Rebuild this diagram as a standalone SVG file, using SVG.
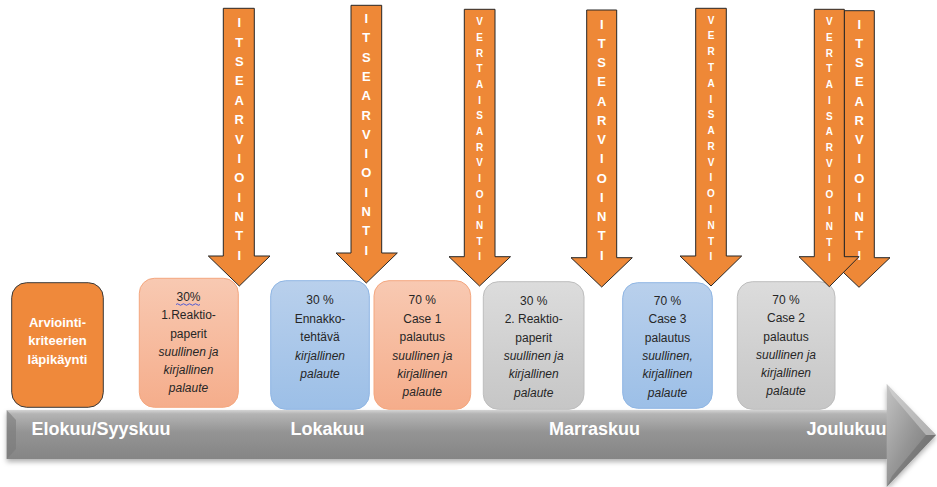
<svg xmlns="http://www.w3.org/2000/svg" width="937" height="487" viewBox="0 0 937 487">
  <defs>
    <linearGradient id="gBody" x1="0" y1="0" x2="0" y2="1">
      <stop offset="0" stop-color="#d4d4d4"/>
      <stop offset="0.08" stop-color="#b4b4b4"/>
      <stop offset="0.45" stop-color="#949494"/>
      <stop offset="1" stop-color="#858585"/>
    </linearGradient>
    <linearGradient id="gHead" x1="0" y1="0" x2="1" y2="1">
      <stop offset="0" stop-color="#c4c4c4"/>
      <stop offset="0.5" stop-color="#959595"/>
      <stop offset="1" stop-color="#6e6e6e"/>
    </linearGradient>
    <linearGradient id="gSalmon" x1="0" y1="0" x2="0" y2="1">
      <stop offset="0" stop-color="#f8c9b2"/>
      <stop offset="1" stop-color="#f5ad8b"/>
    </linearGradient>
    <linearGradient id="gBlue" x1="0" y1="0" x2="0" y2="1">
      <stop offset="0" stop-color="#b9d0ec"/>
      <stop offset="1" stop-color="#9cbfe7"/>
    </linearGradient>
    <linearGradient id="gGray" x1="0" y1="0" x2="0" y2="1">
      <stop offset="0" stop-color="#dcdcdc"/>
      <stop offset="1" stop-color="#c6c6c6"/>
    </linearGradient>
    <filter id="shadow" x="-5%" y="-20%" width="110%" height="160%">
      <feDropShadow dx="0" dy="3" stdDeviation="2.5" flood-color="#000" flood-opacity="0.3"/>
    </filter>
    <style>
      .arrow { fill: #ee8837; stroke: #262626; stroke-width: 1; }
      .lt { font: bold 13px 'Liberation Sans', Arial, sans-serif; fill: #ffffff; text-anchor: middle; }
      .lv { font: bold 10px 'Liberation Sans', Arial, sans-serif; fill: #ffffff; text-anchor: middle; }
      .bt { font: 12px 'Liberation Sans', Arial, sans-serif; fill: #262626; text-anchor: middle; }
      .it { font-style: italic; }
      .wt { font: bold 13px 'Liberation Sans', Arial, sans-serif; fill: #ffffff; text-anchor: middle; }
      .mt { font: bold 18px 'Liberation Sans', Arial, sans-serif; fill: #ffffff; }
      .salmon { fill: url(#gSalmon); stroke: #f4a77f; stroke-width: 1; }
      .blue { fill: url(#gBlue); stroke: #8fb6e4; stroke-width: 1; }
      .gray { fill: url(#gGray); stroke: #bdbdbd; stroke-width: 1; }
    </style>
  </defs>

  <!-- timeline arrow -->
  <g id="timeline">
    <g filter="url(#shadow)">
      <rect x="6.7" y="410" width="881" height="49" fill="url(#gBody)"/>
      <polygon points="886.7,384 936,435 886.7,487" fill="url(#gHead)"/>
    </g>
    <polygon points="6.7,410 16,420 16,449 6.7,459" fill="#7a7a7a" opacity="0.6"/>
    <polygon points="886.7,384 892,395 926,435 936,435" fill="#dcdcdc" opacity="0.5"/>
    <polygon points="886.7,487 892,476 926,435 936,435" fill="#5a5a5a" opacity="0.35"/>
    <text class="mt" x="31.5" y="435">Elokuu/Syyskuu</text>
    <text class="mt" x="290.5" y="435">Lokakuu</text>
    <text class="mt" x="549" y="435">Marraskuu</text>
    <text class="mt" x="806.5" y="435">Joulukuu</text>
  </g>

  <!-- task boxes -->
  <g id="box-kriteerit">
    <rect x="11.7" y="282.7" width="91.6" height="124.6" rx="15" fill="#ef893b" stroke="#3a3a3a" stroke-width="1"/>
    <text class="wt" x="57.5" y="326.5">Arviointi-</text>
    <text class="wt" x="57.5" y="345">kriteerien</text>
    <text class="wt" x="57.5" y="364">läpikäynti</text>
  </g>

  <g id="box-reaktio1">
    <rect class="salmon" x="139.3" y="278.3" width="99" height="129" rx="15"/>
    <text class="bt" x="188.5" y="301">30%</text>
    <path d="M176,304.5 q1.5,-1.5 3,0 t3,0 t3,0 t3,0 t3,0 t3,0 t3,0 t3,0" fill="none" stroke="#3b4fd8" stroke-width="0.9"/>
    <text class="bt" x="188.5" y="319">1.Reaktio-</text>
    <text class="bt" x="188.5" y="337.5">paperit</text>
    <text class="bt it" x="188.5" y="356">suullinen ja</text>
    <text class="bt it" x="188.5" y="374">kirjallinen</text>
    <text class="bt it" x="188.5" y="392">palaute</text>
  </g>

  <g id="box-ennakko">
    <rect class="blue" x="270.7" y="280.7" width="98.6" height="128.6" rx="15"/>
    <text class="bt" x="320" y="304">30 %</text>
    <text class="bt" x="320" y="322.5">Ennakko-</text>
    <text class="bt" x="320" y="341">tehtävä</text>
    <text class="bt it" x="320" y="359.5">kirjallinen</text>
    <text class="bt it" x="320" y="378">palaute</text>
  </g>

  <g id="box-case1">
    <rect class="salmon" x="374" y="280.7" width="96.7" height="128.6" rx="15"/>
    <text class="bt" x="422.3" y="304">70 %</text>
    <text class="bt" x="422.3" y="322.5">Case 1</text>
    <text class="bt" x="422.3" y="341">palautus</text>
    <text class="bt it" x="422.3" y="359.5">suullinen ja</text>
    <text class="bt it" x="422.3" y="377.5">kirjallinen</text>
    <text class="bt it" x="422.3" y="396">palaute</text>
  </g>

  <g id="box-reaktio2">
    <rect class="gray" x="483.3" y="281.7" width="100.7" height="127.6" rx="15"/>
    <text class="bt" x="533.7" y="304.5">30 %</text>
    <text class="bt" x="533.7" y="323">2. Reaktio-</text>
    <text class="bt" x="533.7" y="341.5">paperit</text>
    <text class="bt it" x="533.7" y="360">suullinen ja</text>
    <text class="bt it" x="533.7" y="378">kirjallinen</text>
    <text class="bt it" x="533.7" y="396.5">palaute</text>
  </g>

  <g id="box-case3">
    <rect class="blue" x="622.7" y="282.7" width="89.6" height="125.6" rx="15"/>
    <text class="bt" x="667.5" y="305">70 %</text>
    <text class="bt" x="667.5" y="323">Case 3</text>
    <text class="bt" x="667.5" y="341.5">palautus</text>
    <text class="bt it" x="667.5" y="360">suullinen,</text>
    <text class="bt it" x="667.5" y="378">kirjallinen</text>
    <text class="bt it" x="667.5" y="396.5">palaute</text>
  </g>

  <g id="box-case2">
    <rect class="gray" x="737.3" y="281.7" width="97.7" height="127.6" rx="15"/>
    <text class="bt" x="786" y="304">70 %</text>
    <text class="bt" x="786" y="322">Case 2</text>
    <text class="bt" x="786" y="340.5">palautus</text>
    <text class="bt it" x="786" y="358.5">suullinen ja</text>
    <text class="bt it" x="786" y="376.5">kirjallinen</text>
    <text class="bt it" x="786" y="395">palaute</text>
  </g>

  <!-- assessment arrows pointing down onto the timeline -->
  <g id="connectors">
    <g id="arrow-itse-1">
      <polygon class="arrow" points="223.3,8.3 254.3,8.3 254.3,256 270,256 239.3,286 208.3,256 223.3,256"/>
      <text class="lt" y="27.4"><tspan x="239.3">I</tspan><tspan x="239.3" dy="19.35">T</tspan><tspan x="239.3" dy="19.35">S</tspan><tspan x="239.3" dy="19.35">E</tspan><tspan x="239.3" dy="19.35">A</tspan><tspan x="239.3" dy="19.35">R</tspan><tspan x="239.3" dy="19.35">V</tspan><tspan x="239.3" dy="19.35">I</tspan><tspan x="239.3" dy="19.35">O</tspan><tspan x="239.3" dy="19.35">I</tspan><tspan x="239.3" dy="19.35">N</tspan><tspan x="239.3" dy="19.35">T</tspan><tspan x="239.3" dy="19.35">I</tspan></text>
    </g>
    <g id="arrow-itse-2">
      <polygon class="arrow" points="351,5.3 381.7,5.3 381.7,253 397.3,253 366.3,283 336,253 351,253"/>
      <text class="lt" y="23"><tspan x="366.3">I</tspan><tspan x="366.3" dy="19.3">T</tspan><tspan x="366.3" dy="19.3">S</tspan><tspan x="366.3" dy="19.3">E</tspan><tspan x="366.3" dy="19.3">A</tspan><tspan x="366.3" dy="19.3">R</tspan><tspan x="366.3" dy="19.3">V</tspan><tspan x="366.3" dy="19.3">I</tspan><tspan x="366.3" dy="19.3">O</tspan><tspan x="366.3" dy="19.3">I</tspan><tspan x="366.3" dy="19.3">N</tspan><tspan x="366.3" dy="19.3">T</tspan><tspan x="366.3" dy="19.3">I</tspan></text>
    </g>
    <g id="arrow-vertais-1">
      <polygon class="arrow" points="464.3,9.3 495,9.3 495,256.7 510.5,256.7 479.5,286 449,256.7 464.3,256.7"/>
      <text class="lv" y="25.3"><tspan x="479.6">V</tspan><tspan x="479.6" dy="15.67">E</tspan><tspan x="479.6" dy="15.67">R</tspan><tspan x="479.6" dy="15.67">T</tspan><tspan x="479.6" dy="15.67">A</tspan><tspan x="479.6" dy="15.67">I</tspan><tspan x="479.6" dy="15.67">S</tspan><tspan x="479.6" dy="15.67">A</tspan><tspan x="479.6" dy="15.67">R</tspan><tspan x="479.6" dy="15.67">V</tspan><tspan x="479.6" dy="15.67">I</tspan><tspan x="479.6" dy="15.67">O</tspan><tspan x="479.6" dy="15.67">I</tspan><tspan x="479.6" dy="15.67">N</tspan><tspan x="479.6" dy="15.67">T</tspan><tspan x="479.6" dy="15.67">I</tspan></text>
    </g>
    <g id="arrow-itse-3">
      <polygon class="arrow" points="586.7,10 616.7,10 616.7,257.7 632.3,257.7 601.7,287 571,257.7 586.7,257.7"/>
      <text class="lt" y="28.7"><tspan x="601.7">I</tspan><tspan x="601.7" dy="19.25">T</tspan><tspan x="601.7" dy="19.25">S</tspan><tspan x="601.7" dy="19.25">E</tspan><tspan x="601.7" dy="19.25">A</tspan><tspan x="601.7" dy="19.25">R</tspan><tspan x="601.7" dy="19.25">V</tspan><tspan x="601.7" dy="19.25">I</tspan><tspan x="601.7" dy="19.25">O</tspan><tspan x="601.7" dy="19.25">I</tspan><tspan x="601.7" dy="19.25">N</tspan><tspan x="601.7" dy="19.25">T</tspan><tspan x="601.7" dy="19.25">I</tspan></text>
    </g>
    <g id="arrow-vertais-2">
      <polygon class="arrow" points="695.7,8.3 726.3,8.3 726.3,256 741.7,256 711,286 680,256 695.7,256"/>
      <text class="lv" y="23.6"><tspan x="711">V</tspan><tspan x="711" dy="15.78">E</tspan><tspan x="711" dy="15.78">R</tspan><tspan x="711" dy="15.78">T</tspan><tspan x="711" dy="15.78">A</tspan><tspan x="711" dy="15.78">I</tspan><tspan x="711" dy="15.78">S</tspan><tspan x="711" dy="15.78">A</tspan><tspan x="711" dy="15.78">R</tspan><tspan x="711" dy="15.78">V</tspan><tspan x="711" dy="15.78">I</tspan><tspan x="711" dy="15.78">O</tspan><tspan x="711" dy="15.78">I</tspan><tspan x="711" dy="15.78">N</tspan><tspan x="711" dy="15.78">T</tspan><tspan x="711" dy="15.78">I</tspan></text>
    </g>
    <g id="arrow-itse-4">
      <polygon class="arrow" points="844.3,10.7 874.3,10.7 874.3,257.7 890,257.7 859,287.3 828,257.7 844.3,257.7"/>
      <text class="lt" y="28.7"><tspan x="859.3">I</tspan><tspan x="859.3" dy="19.25">T</tspan><tspan x="859.3" dy="19.25">S</tspan><tspan x="859.3" dy="19.25">E</tspan><tspan x="859.3" dy="19.25">A</tspan><tspan x="859.3" dy="19.25">R</tspan><tspan x="859.3" dy="19.25">V</tspan><tspan x="859.3" dy="19.25">I</tspan><tspan x="859.3" dy="19.25">O</tspan><tspan x="859.3" dy="19.25">I</tspan><tspan x="859.3" dy="19.25">N</tspan><tspan x="859.3" dy="19.25">T</tspan><tspan x="859.3" dy="19.25">I</tspan></text>
    </g>
    <g id="arrow-vertais-3">
      <polygon class="arrow" points="814.3,9.3 844.3,9.3 844.3,256.7 859,256.7 829.3,286.7 799,256.7 814.3,256.7"/>
      <text class="lv" y="25.3"><tspan x="829.3">V</tspan><tspan x="829.3" dy="15.73">E</tspan><tspan x="829.3" dy="15.73">R</tspan><tspan x="829.3" dy="15.73">T</tspan><tspan x="829.3" dy="15.73">A</tspan><tspan x="829.3" dy="15.73">I</tspan><tspan x="829.3" dy="15.73">S</tspan><tspan x="829.3" dy="15.73">A</tspan><tspan x="829.3" dy="15.73">R</tspan><tspan x="829.3" dy="15.73">V</tspan><tspan x="829.3" dy="15.73">I</tspan><tspan x="829.3" dy="15.73">O</tspan><tspan x="829.3" dy="15.73">I</tspan><tspan x="829.3" dy="15.73">N</tspan><tspan x="829.3" dy="15.73">T</tspan><tspan x="829.3" dy="15.73">I</tspan></text>
    </g>
  </g>
</svg>
